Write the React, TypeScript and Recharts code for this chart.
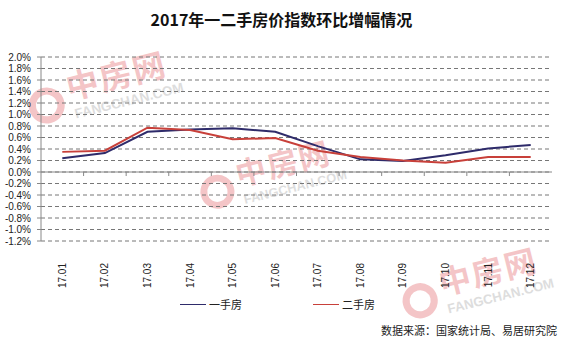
import { LineChart, Line, XAxis, YAxis, CartesianGrid, ReferenceLine } from "recharts";

const months = ["17.01", "17.02", "17.03", "17.04", "17.05", "17.06", "17.07", "17.08", "17.09", "17.10", "17.11", "17.12"];
const firstHand = [0.24, 0.33, 0.7, 0.74, 0.76, 0.7, 0.45, 0.22, 0.19, 0.29, 0.41, 0.47];
const secondHand = [0.35, 0.37, 0.77, 0.73, 0.57, 0.59, 0.37, 0.26, 0.2, 0.16, 0.26, 0.26];
const yTicks = [-1.2, -1.0, -0.8, -0.6, -0.4, -0.2, 0, 0.2, 0.4, 0.6, 0.8, 1.0, 1.2, 1.4, 1.6, 1.8, 2.0];

const NAVY = "#2e2b6a";
const RED = "#c8403a";
const NUM_FONT = "'Liberation Sans', Arial, sans-serif";
const CJK_FONT = "'Noto Sans CJK SC', sans-serif";

const data = months.map((m, i) => ({
  pos: i + 0.5,
  month: m,
  first: firstHand[i],
  second: secondHand[i],
}));

const xTicks = data.map((d) => d.pos);
const boundaries = months.slice(1).map((_, i) => i + 1);

function MonthTick(props: any) {
  const { x, y, payload } = props;
  const label = months[Math.round(payload.value - 0.5)];
  const ty = y + 14;
  return (
    <text
      x={x}
      y={ty}
      transform={`rotate(-90, ${x}, ${ty})`}
      textAnchor="end"
      dy="0.35em"
      fill="#222"
      fontSize={10}
      fontFamily={NUM_FONT}
    >
      {label}
    </text>
  );
}

// faint site watermark (logo ring + name + url)
function Watermark({ left, top, scale }: { left: number; top: number; scale: number }) {
  return (
    <div
      style={{
        position: "absolute",
        left,
        top,
        width: 170,
        height: 80,
        transform: `scale(${scale}) rotate(-14deg)`,
        transformOrigin: "0 0",
        opacity: 0.28,
        pointerEvents: "none",
      }}
    >
      <div
        style={{
          position: "absolute",
          left: -4,
          top: 20,
          width: 40,
          height: 40,
          borderRadius: "50%",
          border: "8px solid #d9333a",
          boxSizing: "border-box",
        }}
      />
      <div
        style={{
          position: "absolute",
          left: 42,
          top: -2,
          fontFamily: CJK_FONT,
          fontWeight: 700,
          fontSize: 36,
          color: "#d9333a",
          letterSpacing: 2,
          whiteSpace: "nowrap",
        }}
      >
        中房网
      </div>
      <div
        style={{
          position: "absolute",
          left: 44,
          top: 48,
          fontFamily: NUM_FONT,
          fontWeight: 700,
          fontSize: 15,
          color: "#888",
          whiteSpace: "nowrap",
        }}
      >
        FANGCHAN.COM
      </div>
    </div>
  );
}

function ChartLegend() {
  const items = [
    { name: "一手房", color: NAVY },
    { name: "二手房", color: RED },
  ];
  return (
    <div style={{ position: "absolute", top: 296, left: 0, width: 563, height: 16 }}>
      {items.map((it, i) => (
        <div
          key={it.name}
          style={{
            position: "absolute",
            left: 180 + i * 133,
            top: 0,
            display: "flex",
            alignItems: "center",
            fontFamily: CJK_FONT,
            fontSize: 11,
            color: "#222",
          }}
        >
          <span style={{ display: "inline-block", width: 26, height: 0, borderTop: `1.5px solid ${it.color}`, marginRight: 3 }} />
          {it.name}
        </div>
      ))}
    </div>
  );
}

export default function App() {
  return (
    <div style={{ position: "relative", width: 563, height: 341, background: "#fff", overflow: "hidden" }}>
      <style>{`body{margin:0}`}</style>
      <Watermark left={24} top={74} scale={0.9} />
      <Watermark left={196} top={162} scale={0.85} />
      <Watermark left={398} top={270} scale={0.88} />
      <div
        style={{
          position: "absolute",
          top: 9,
          left: 0,
          width: 563,
          textAlign: "center",
          fontFamily: CJK_FONT,
          fontWeight: 700,
          fontSize: 16,
          color: "#111",
          lineHeight: "20px",
        }}
      >
        2017年一二手房价指数环比增幅情况
      </div>
      <div style={{ position: "absolute", left: 0, top: 0 }}>
        <LineChart width={563} height={341} data={data} margin={{ top: 57, right: 11, bottom: 56, left: 0 }}>
          <CartesianGrid horizontal vertical={false} stroke="#777" strokeDasharray="4 3" />
          <XAxis
            dataKey="pos"
            type="number"
            domain={[0, 12]}
            ticks={xTicks}
            interval={0}
            axisLine={false}
            tickLine={false}
            tick={<MonthTick />}
            height={44}
          />
          <YAxis
            type="number"
            domain={[-1.2, 2.0]}
            ticks={yTicks}
            interval={0}
            width={41}
            axisLine={{ stroke: "#888" }}
            tickLine={{ stroke: "#888" }}
            tickSize={4}
            tickMargin={6}
            tickFormatter={(v: number) => `${v.toFixed(1)}%`}
            tick={{ fill: "#222", fontSize: 10, fontFamily: NUM_FONT }}
          />
          <ReferenceLine y={0} stroke="#888" strokeWidth={1} />
          {boundaries.map((b) => (
            <ReferenceLine
              key={b}
              segment={[
                { x: b, y: 0 },
                { x: b, y: -0.07 },
              ]}
              stroke="#888"
            />
          ))}
          <Line
            name="一手房"
            type="linear"
            dataKey="first"
            stroke={NAVY}
            strokeWidth={2}
            dot={false}
            isAnimationActive={false}
          />
          <Line
            name="二手房"
            type="linear"
            dataKey="second"
            stroke={RED}
            strokeWidth={2}
            dot={false}
            isAnimationActive={false}
          />
        </LineChart>
      </div>
      <ChartLegend />
      <div
        style={{
          position: "absolute",
          right: 6,
          top: 322,
          fontFamily: CJK_FONT,
          fontSize: 11,
          color: "#222",
          whiteSpace: "nowrap",
        }}
      >
        数据来源：国家统计局、易居研究院
      </div>
    </div>
  );
}
